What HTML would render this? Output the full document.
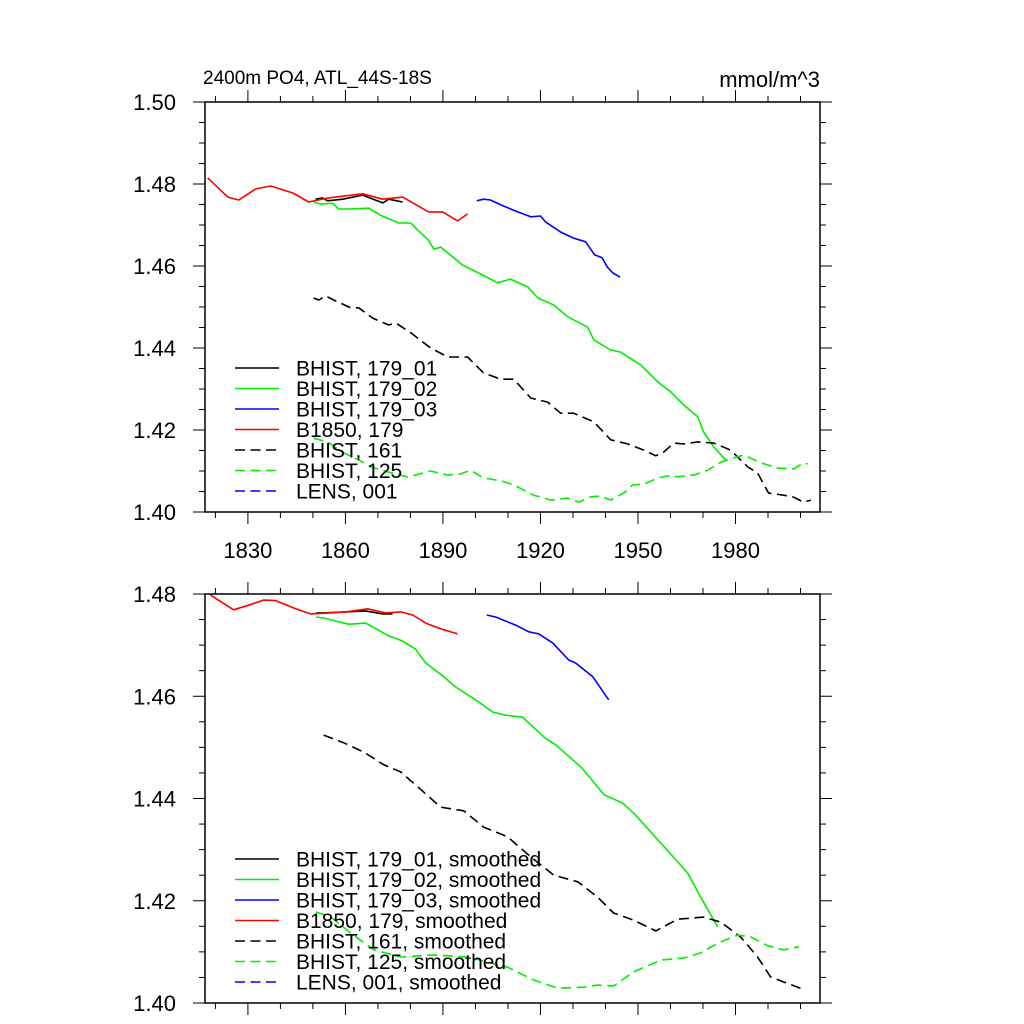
<!DOCTYPE html>
<html><head><meta charset="utf-8"><style>
body{margin:0;background:#fff;}
svg{display:block;font-family:"Liberation Sans",sans-serif;}
</style></head><body>
<svg id="chart" width="1024" height="1024" viewBox="0 0 1024 1024" xmlns="http://www.w3.org/2000/svg">
<rect width="1024" height="1024" fill="#fff"/>
<text x="203" y="84" font-size="19">2400m PO4, ATL_44S-18S</text>
<text x="820" y="87" font-size="22" text-anchor="end">mmol/m^3</text>
<g id="p1"></g><g id="p2"></g>
</svg>
<script>
// ---- data: top panel (raw) ----
const xTickYears = [1830, 1860, 1890, 1920, 1950, 1980];
const yTicksTop = [1.40, 1.42, 1.44, 1.46, 1.48, 1.50];
const yTicksBot = [1.40, 1.42, 1.44, 1.46, 1.48];

const b1850Yr = [1817.6,1823.8,1827.2,1832.4,1837,1843.8,1848.7,1854.8,1865.3,1871.5,1877.6,1885.6,1889.9,1894.5,1897.6];
const b1850Val = [1.4815,1.4768,1.4761,1.4788,1.4795,1.4778,1.4756,1.4766,1.4776,1.4763,1.4768,1.4732,1.4732,1.4710,1.4727];
const h01Yr = [1850.8,1853,1854.5,1859.2,1865.3,1871.5,1873.3,1877.6];
const h01Val = [1.4763,1.4766,1.4759,1.4763,1.4773,1.4754,1.4763,1.4756];
const h02Yr = [1850.2,1852.4,1856.1,1857.9,1861,1867.2,1870.8,1876.4,1880.1,1881.6,1885.6,1887.2,1889.3,1896.1,1902.2,1906.8,1910.8,1916.1,1919.2,1924.1,1928.4,1934.5,1936.4,1941.6,1944.7,1950.8,1956.1,1960.1,1964.1,1968.4,1970.2,1973.3,1977];
const h02Val = [1.4756,1.4751,1.4753,1.4739,1.4739,1.4741,1.4724,1.4705,1.4705,1.4693,1.4663,1.4641,1.4646,1.4602,1.4578,1.4559,1.4568,1.4549,1.4522,1.4505,1.4476,1.4451,1.4420,1.4395,1.4390,1.4359,1.4317,1.4293,1.4261,1.4232,1.4195,1.4159,1.4127];
const h03Yr = [1900.4,1902.5,1904.6,1907.8,1912.4,1917,1920,1921.6,1926.2,1930.2,1933.9,1936.7,1939,1940.5,1942.3,1944.5];
const h03Val = [1.4759,1.4763,1.4761,1.4749,1.4734,1.4720,1.4722,1.4707,1.4683,1.4668,1.4659,1.4627,1.4620,1.4598,1.4583,1.4573];
const h161Yr = [1850.2,1851.8,1853.9,1856.4,1861.6,1864.1,1868.4,1873.3,1875.5,1880.1,1886.2,1891.5,1897.6,1902.5,1907.8,1911.8,1917,1922.2,1926.2,1930.2,1936.4,1941.6,1946.8,1951.8,1955.5,1957.9,1961,1964.1,1968.4,1973.3,1978.5,1983.8,1986.8,1990.2,1994.8,1997.9,2001,2003.2];
const h161Val = [1.4522,1.4517,1.4527,1.4517,1.4498,1.4498,1.4473,1.4456,1.4461,1.4437,1.4400,1.4378,1.4378,1.4339,1.4324,1.4324,1.4278,1.4268,1.4241,1.4241,1.4220,1.4176,1.4166,1.4151,1.4137,1.4146,1.4168,1.4166,1.4171,1.4168,1.4151,1.4110,1.4095,1.4046,1.4041,1.4036,1.4024,1.4029];
const h125Yr = [1850.2,1854.5,1859.5,1864.1,1867.8,1873,1879.2,1886.2,1891.5,1895.5,1898.5,1902.5,1907.8,1911.8,1917.9,1923.2,1928.4,1931.8,1935.5,1938.5,1941.6,1945.6,1948.4,1951.8,1956.1,1959.2,1962.2,1967.2,1971.5,1975.5,1979.5,1982.5,1987.8,1993,1997.9,2001,2002.2];
const h125Val = [1.4180,1.4171,1.4144,1.4127,1.4110,1.4098,1.4085,1.4100,1.4090,1.4093,1.4102,1.4083,1.4076,1.4066,1.4041,1.4029,1.4034,1.4024,1.4037,1.4039,1.4029,1.4046,1.4066,1.4068,1.4083,1.4088,1.4086,1.4090,1.4102,1.4122,1.4132,1.4139,1.4120,1.4107,1.4105,1.4120,1.4117];

// ---- data: bottom panel (smoothed) ----
const sB1850Yr = [1818.5,1820.4,1825.6,1830.2,1834.8,1838.5,1844.7,1849.3,1854.8,1860.1,1866.8,1872.4,1877,1880.7,1884.7,1889.3,1894.5];
const sB1850Val = [1.4798,1.4790,1.4769,1.4778,1.4788,1.4787,1.4771,1.4761,1.4763,1.4765,1.4771,1.4763,1.4765,1.4759,1.4743,1.4732,1.4722];
const s01Yr = [1851,1853.3,1860.1,1866.2,1871.5,1874.5];
const s01Val = [1.4763,1.4763,1.4765,1.4767,1.4761,1.4761];
const s02Yr = [1851,1853.3,1857,1861,1866.2,1873.3,1877.6,1881.6,1884.7,1889.9,1893.9,1901,1905.3,1909.3,1914.5,1921.3,1924.7,1932.7,1939.6,1945.3,1948.9,1957,1965.3,1969.3,1974.5];
const s02Val = [1.4755,1.4753,1.4747,1.4741,1.4743,1.4718,1.4708,1.4692,1.4665,1.4640,1.4618,1.4589,1.4569,1.4563,1.4559,1.4519,1.4505,1.4460,1.4407,1.4391,1.4370,1.4313,1.4254,1.4207,1.4149];
const s03Yr = [1903.5,1906.2,1912.4,1916.4,1919.5,1923.8,1928.7,1930.8,1936.1,1941];
const s03Val = [1.4759,1.4755,1.4739,1.4726,1.4722,1.4704,1.4671,1.4665,1.4638,1.4593];
const s161Yr = [1853.3,1859.5,1865.6,1871.8,1877,1882.2,1889.3,1896.4,1902.5,1909.9,1917,1924.1,1931.5,1937.6,1942.5,1948.7,1955.5,1962.2,1970.2,1975.5,1981.6,1986.8,1990.8,1994.8,2000];
const s161Val = [1.4524,1.4509,1.4491,1.4466,1.4452,1.4423,1.4383,1.4376,1.4344,1.4325,1.4286,1.4250,1.4237,1.4207,1.4176,1.4162,1.4141,1.4164,1.4168,1.4158,1.4129,1.4090,1.4051,1.4041,1.4029];
const s125Yr = [1851,1855.5,1861.6,1868.7,1877,1887.2,1897.6,1909.9,1917.9,1925.3,1933.3,1937.6,1942.5,1948.7,1957,1964.1,1969.3,1974.5,1980.7,1984.7,1989.9,1994.8,1999.5];
const s125Val = [1.4178,1.4168,1.4137,1.4104,1.4090,1.4094,1.4090,1.4070,1.4045,1.4029,1.4031,1.4035,1.4033,1.4061,1.4084,1.4088,1.4098,1.4117,1.4133,1.4129,1.4112,1.4104,1.4110];

const labelsTop = ["BHIST, 179_01","BHIST, 179_02","BHIST, 179_03","B1850, 179","BHIST, 161","BHIST, 125","LENS, 001"];
const labelsBot = labelsTop.map(s => s + ", smoothed");

const NS = "http://www.w3.org/2000/svg";
const X0 = 205, X1 = 820, YR0 = 1816.8, YR1 = 2006;
function xs(yr){ return X0 + (yr - YR0) / (YR1 - YR0) * (X1 - X0); }
function mk(tag, attrs, parent){ const e = document.createElementNS(NS, tag); for (const k in attrs) e.setAttribute(k, attrs[k]); parent.appendChild(e); return e; }

function panel(g, top, bot, vmin, vmax, yTicks, showXLabels, series, labels, legTop, name){
  const ys = v => bot - (v - vmin) / (vmax - vmin) * (bot - top);
  const frame = mk("rect", {x:X0, y:top, width:X1-X0, height:bot-top, fill:"none", stroke:"#000", "stroke-width":1.5}, g);
  
  
  for (let yr = 1820; yr <= 2000; yr += 10){
    const major = xTickYears.includes(yr);
    const L = major ? 12 : 6, x = xs(yr);
    mk("line", {x1:x, x2:x, y1:bot, y2:bot+L, stroke:"#000", "stroke-width":1}, g);
    mk("line", {x1:x, x2:x, y1:top, y2:top-L, stroke:"#000", "stroke-width":1}, g);
  }
  if (showXLabels){
    xTickYears.forEach(yr => {
      const t = mk("text", {x:xs(yr), y:bot+46, "font-size":22, "text-anchor":"middle"}, g);
      t.textContent = yr;
      
      
    });
  }
  for (let i = 0; i <= Math.round((vmax - vmin) / 0.005); i++){
    const v = vmin + i * 0.005, y = ys(v);
    const major = i % 4 === 0, L = major ? 12 : 6;
    mk("line", {x1:X0, x2:X0-L, y1:y, y2:y, stroke:"#000", "stroke-width":1}, g);
    mk("line", {x1:X1, x2:X1+L, y1:y, y2:y, stroke:"#000", "stroke-width":1}, g);
  }
  yTicks.forEach(v => {
    const t = mk("text", {x:176, y:ys(v)+8, "font-size":22, "text-anchor":"end"}, g);
    t.textContent = v.toFixed(2);
    
    
  });
  series.forEach(s => {
    if (!s.yr) return;
    const d = s.yr.map((yr, i) => (i ? "L" : "M") + xs(yr).toFixed(1) + "," + ys(s.val[i]).toFixed(1)).join(" ");
    const p = mk("path", {d:d, fill:"none", stroke:s.color, "stroke-width":1.6, "stroke-linejoin":"round"}, g);
    if (s.dash) p.setAttribute("stroke-dasharray", "10,5.5");
    
    
  });
  series.forEach((s, i) => {
    const y = legTop + i * 20.5;
    const ln = mk("line", {x1:235, x2:279, y1:y, y2:y, stroke:s.color, "stroke-width":1.6}, g);
    if (s.dash) ln.setAttribute("stroke-dasharray", "10,5.5");
    
    
    const t = mk("text", {x:296, y:y+7.5, "font-size":21}, g);
    t.textContent = labels[i];
    
    
  });
}

panel(document.getElementById("p1"), 102, 512, 1.40, 1.50, yTicksTop, true, [
  {id:"bhist-179-01", yr:h01Yr, val:h01Val, color:"#000"},
  {id:"bhist-179-02", yr:h02Yr, val:h02Val, color:"#00ee00"},
  {id:"bhist-179-03", yr:h03Yr, val:h03Val, color:"#0000ff"},
  {id:"b1850-179", yr:b1850Yr, val:b1850Val, color:"#ff0000"},
  {id:"bhist-161", yr:h161Yr, val:h161Val, color:"#000", dash:true},
  {id:"bhist-125", yr:h125Yr, val:h125Val, color:"#00ee00", dash:true},
  {id:"lens-001", yr:null, val:null, color:"#0000ff", dash:true}
], labelsTop, 368, "top-panel");

panel(document.getElementById("p2"), 594, 1003, 1.40, 1.48, yTicksBot, false, [
  {id:"bhist-179-01-smoothed", yr:s01Yr, val:s01Val, color:"#000"},
  {id:"bhist-179-02-smoothed", yr:s02Yr, val:s02Val, color:"#00ee00"},
  {id:"bhist-179-03-smoothed", yr:s03Yr, val:s03Val, color:"#0000ff"},
  {id:"b1850-179-smoothed", yr:sB1850Yr, val:sB1850Val, color:"#ff0000"},
  {id:"bhist-161-smoothed", yr:s161Yr, val:s161Val, color:"#000", dash:true},
  {id:"bhist-125-smoothed", yr:s125Yr, val:s125Val, color:"#00ee00", dash:true},
  {id:"lens-001-smoothed", yr:null, val:null, color:"#0000ff", dash:true}
], labelsBot, 859, "bottom-panel");
</script>
</body></html>
